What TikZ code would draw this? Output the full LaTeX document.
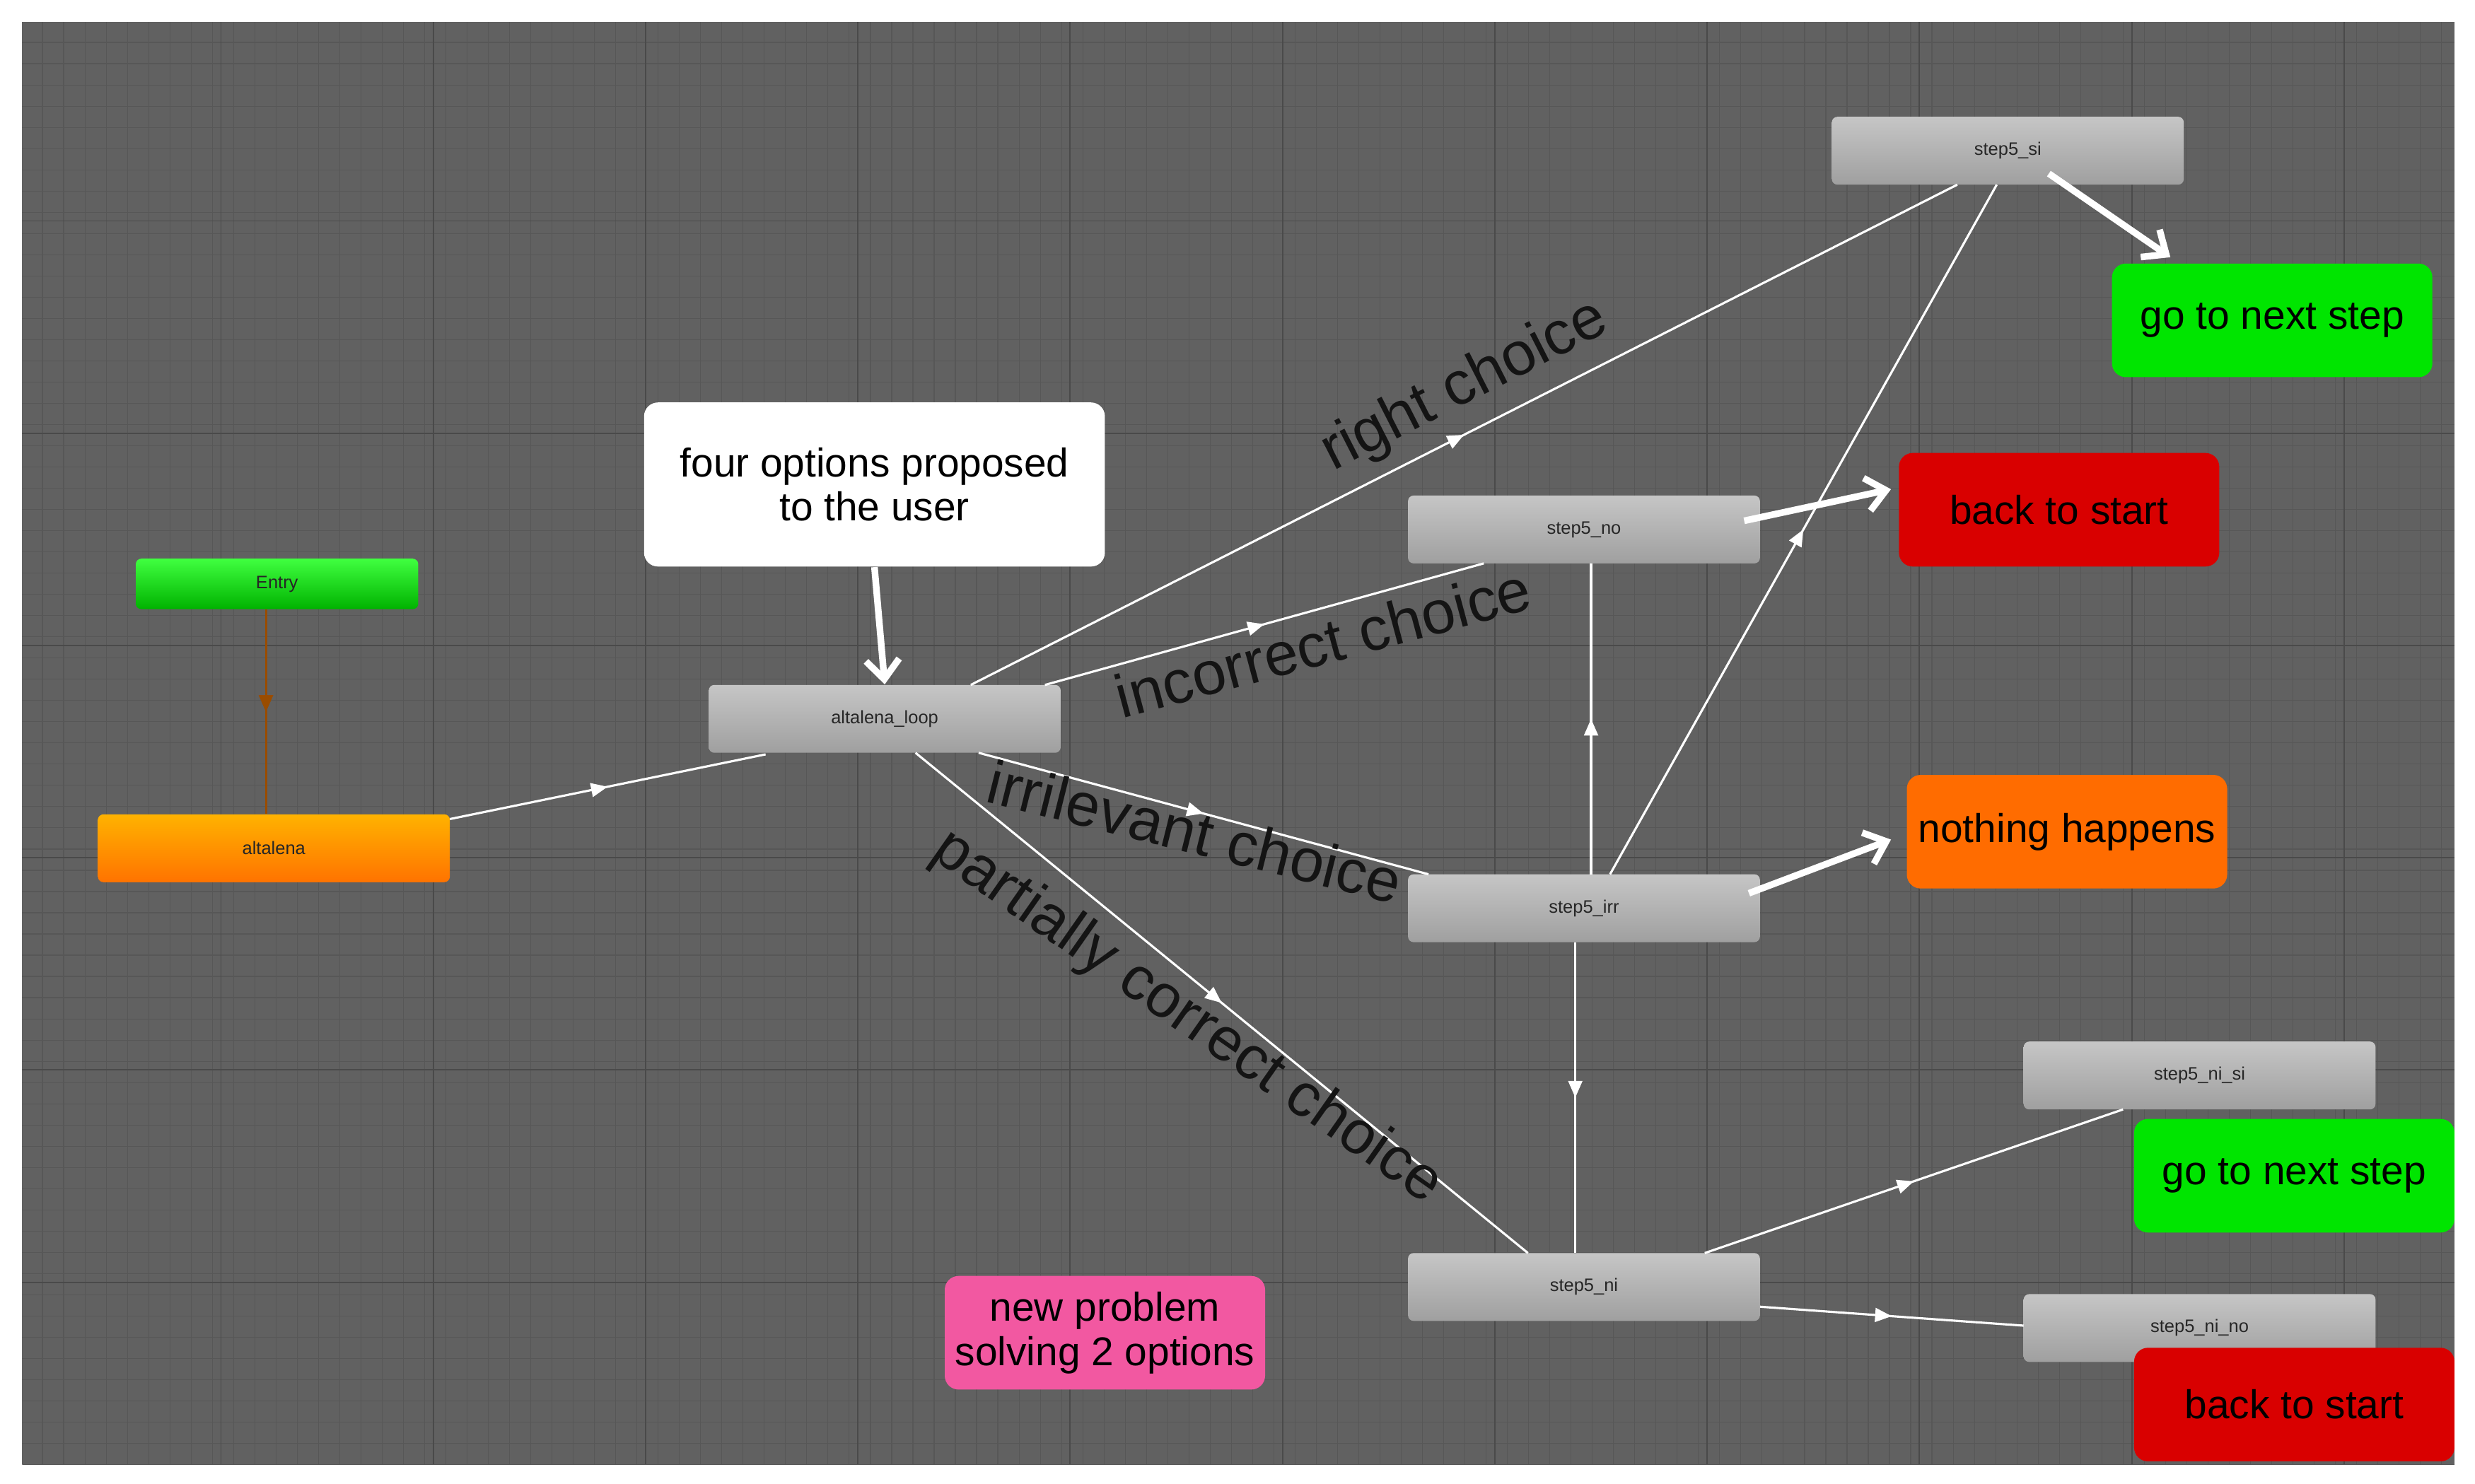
\documentclass[tikz,border=0pt]{standalone}
\usepackage{fontspec}
\setmainfont{Liberation Sans}
\usetikzlibrary{decorations.markings,arrows.meta}
\begin{document}
\begin{tikzpicture}[x=0.02cm,y=-0.02cm,
 st/.style={draw=none,rounded corners=2pt,minimum width=4.46cm,minimum height=0.86cm,font=\fontsize{6.5}{7}\selectfont,text=black!85},
 gst/.style={st,top color=gray!45,bottom color=gray!75},
 big/.style={rounded corners=5pt,minimum width=4.06cm,minimum height=1.44cm,font=\fontsize{14.5}{16}\selectfont,align=center},
 lab/.style={font=\fontsize{22}{23}\selectfont,text=black!92},
 conn/.style={white,line width=0.8pt,postaction=decorate,decoration={markings,mark=at position 0.5 with {\arrow{Triangle[length=6pt,width=5pt]}}}},
 thick/.style={white,line width=2.4pt,-{Straight Barb[length=7pt,width=12pt,line width=2.4pt]}}]
\useasboundingbox (0,0) rectangle (1568,940);
\fill[white] (0,0) rectangle (1568,940);
\fill[black!62] (14,14) rectangle (1555,928);
\begin{scope}
\clip (14,14) rectangle (1555,928);
\foreach \x in {0,13.45,...,1568} \draw[black!66,line width=0.3pt] (\x,14)--(\x,928);
\foreach \y in {0,13.45,...,940} \draw[black!66,line width=0.3pt] (14,\y)--(1555,\y);
\foreach \x in {5.5,140,...,1568} \draw[black!71,line width=0.5pt] (\x,14)--(\x,928);
\foreach \y in {5.5,140,...,940} \draw[black!71,line width=0.5pt] (14,\y)--(1555,\y);
\end{scope}
% nodes
\node[st,top color=green!75!white,bottom color=green!70!black,minimum width=3.58cm,minimum height=0.64cm] (entry) at (175.5,370) {Entry};
\node[st,top color=orange!60!yellow,bottom color=orange!90!red] (alt) at (173.5,537.5) {altalena};
\node[gst] (loop) at (560.5,455.5) {altalena\_loop};
\node[gst] (si) at (1272,95.5) {step5\_si};
\node[gst] (no) at (1003.5,335.5) {step5\_no};
\node[gst] (irr) at (1003.5,575.5) {step5\_irr};
\node[gst] (ni) at (1003.5,815.5) {step5\_ni};
\node[gst] (nisi) at (1393.5,681.5) {step5\_ni\_si};
\node[gst] (nino) at (1393.5,841.5) {step5\_ni\_no};
\node[big,fill=white,text=black,minimum width=5.84cm,minimum height=2.08cm] (call) at (554,307) {four options proposed\\to the user};
\node[big,fill=green!90!black,text=black] (g1) at (1439.5,203) {go to next step};
\node[big,fill=red!85!black,text=black] (r1) at (1304.5,323) {back to start};
\node[big,fill=orange!85!red,text=black] (o1) at (1309.5,527) {nothing happens};
\node[big,fill=green!90!black,text=black] (g2) at (1453.5,745) {go to next step};
\node[big,fill=red!85!black,text=black] (r2) at (1453.5,890) {back to start};
\node[big,fill=magenta!55!pink,text=black] (pink) at (700,844.5) {new problem\\solving 2 options};
% connectors
\draw[conn,draw=orange!60!black,line width=0.8pt,decoration={markings,mark=at position 0.5 with {\arrow[orange!60!black]{Triangle[length=6pt,width=5pt]}}}] (entry.south -| alt.north) ++(-5,0) coordinate (e1) -- (e1 |- alt.north);
\coordinate (a1) at (285,519); \coordinate (a2) at (485,478);
\draw[conn] (a1) -- (a2);
\coordinate (l1) at (615,434); \coordinate (s1) at (1240,117);
\draw[conn] (l1) -- (s1);
\coordinate (l2) at (662,434); \coordinate (n1) at (940,357);
\draw[conn] (l2) -- (n1);
\coordinate (l3) at (620,477); \coordinate (i1) at (905,554);
\draw[conn] (l3) -- (i1);
\coordinate (l4) at (580,477); \coordinate (ni1) at (968,794);
\draw[conn] (l4) -- (ni1);
\coordinate (i2) at (1008,554); \coordinate (n2) at (1008,357);
\draw[conn] (i2) -- (n2);
\coordinate (i3) at (1020,554); \coordinate (s2) at (1265,117);
\draw[conn] (i3) -- (s2);
\coordinate (i4) at (998,597); \coordinate (ni2) at (998,794);
\draw[conn] (i4) -- (ni2);
\coordinate (ni3) at (1080,794); \coordinate (nisi1) at (1345,703);
\draw[conn] (ni3) -- (nisi1);
\coordinate (ni4) at (1115,828); \coordinate (nino1) at (1282,840);
\draw[conn] (ni4) -- (nino1);
% thick arrows
\draw[thick] (call.south) -- (loop.north);
\coordinate (t1) at (1298,110); \coordinate (t2) at (1375,163);
\draw[thick] (t1) -- (t2);
\coordinate (t3) at (1105,330); \coordinate (t4) at (1198,310);
\draw[thick] (t3) -- (t4);
\coordinate (t5) at (1108,566); \coordinate (t6) at (1198,532);
\draw[thick] (t5) -- (t6);
% labels
\node[lab,rotate=27] (lr) at (928,245) {right choice};
\node[lab,rotate=15] (li) at (838,407) {incorrect choice};
\node[lab,rotate=-14] (lir) at (757,527) {irrilevant choice};
\node[lab,rotate=-35] (lp) at (752,645) {partially correct choice};
\end{tikzpicture}
\end{document}
